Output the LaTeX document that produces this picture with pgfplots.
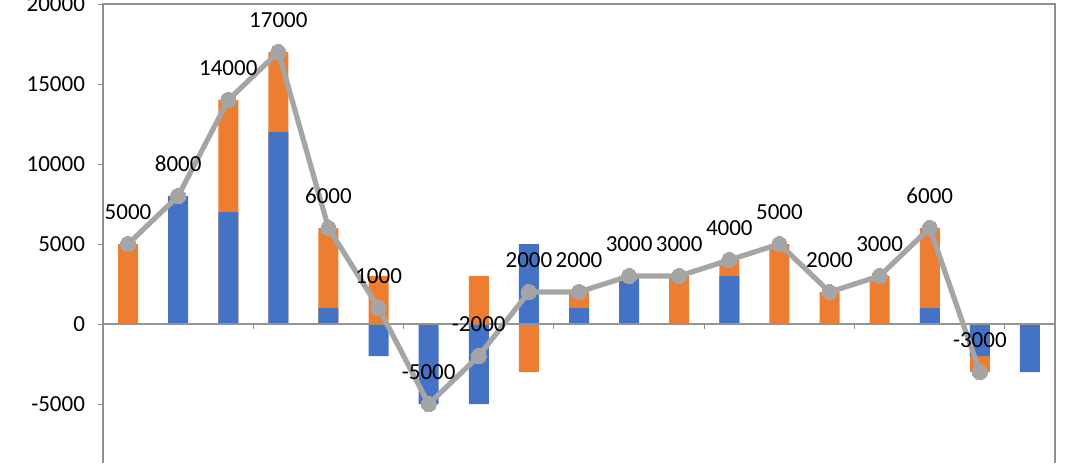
\documentclass[border=0pt]{standalone}
\usepackage{pgfplots}
\pgfplotsset{compat=1.18}
\usepackage{fontspec}
\setmainfont{Carlito}
\definecolor{cblue}{HTML}{4472C4}
\definecolor{corange}{HTML}{ED7D31}
\definecolor{cgray}{HTML}{A5A5A5}
\definecolor{axgray}{HTML}{8F8F8F}
\begin{document}
\begin{tikzpicture}
\begin{axis}[
  scale only axis, width=476pt, height=229.5pt,
  xmin=-0.5, xmax=18.5, ymin=-8687.5, ymax=20000,
  axis line style={draw=none},
  xtick=\empty,
  ytick={-5000,0,5000,10000,15000,20000},
  scaled y ticks=false,
  ytick pos=left, tick align=outside,
  major tick length=2.5pt,
  every tick/.style={axgray, line width=0.5pt},
  /pgf/number format/1000 sep={},
  /pgf/number format/assume math mode=true,
  tick label style={font=\fontsize{11.5}{13}\selectfont, black},
  yticklabel style={xshift=-3pt},
  clip=false,
]
% orange segment ends (stacked on blue when same sign)
\addplot[ybar, bar width=10pt, bar shift=0pt, fill=corange, draw=none] coordinates {
  (0,5000) (1,0) (2,14000) (3,17000) (4,6000) (5,3000) (6,0) (7,3000) (8,-3000) (9,2000)
  (10,0) (11,3000) (12,4000) (13,5000) (14,2000) (15,3000) (16,6000) (17,-3000) (18,0)};
% blue values
\addplot[ybar, bar width=10pt, bar shift=0pt, fill=cblue, draw=none] coordinates {
  (0,0) (1,8000) (2,7000) (3,12000) (4,1000) (5,-2000) (6,-5000) (7,-5000) (8,5000) (9,1000)
  (10,3000) (11,0) (12,3000) (13,0) (14,0) (15,0) (16,1000) (17,-2000) (18,-3000)};
% axis lines
\draw[cgray!90!black, line width=0.6pt] (axis cs:-0.5,0) -- (axis cs:18.5,0);
\pgfplotsinvokeforeach{2.5,5.5,8.5,11.5,14.5,17.5}{
  \draw[axgray, line width=0.5pt] (axis cs:#1,0) -- ([yshift=-2.5pt]axis cs:#1,0);
}
\draw[axgray, line width=1pt] (rel axis cs:0,0) -- (rel axis cs:0,1) -- (rel axis cs:1,1) -- (rel axis cs:1,0);
% total line
\addplot[cgray, line width=2.6pt, mark=*, mark size=3.8pt,
  mark options={fill=cgray, draw=cgray, line width=0pt},
  nodes near coords,
  every node near coord/.append style={font=\fontsize{11.5}{13}\selectfont, black, anchor=center, yshift=16pt}]
  coordinates {
  (0,5000) (1,8000) (2,14000) (3,17000) (4,6000) (5,1000) (6,-5000) (7,-2000) (8,2000) (9,2000)
  (10,3000) (11,3000) (12,4000) (13,5000) (14,2000) (15,3000) (16,6000) (17,-3000)};
\coordinate (tl) at (rel axis cs:0,1);
\coordinate (br) at (rel axis cs:1,0);
\end{axis}
\pgfresetboundingbox
\path[use as bounding box] ([shift={(-51.5pt,2pt)}]tl) rectangle ([xshift=16.5pt]br);
\end{tikzpicture}
\end{document}
